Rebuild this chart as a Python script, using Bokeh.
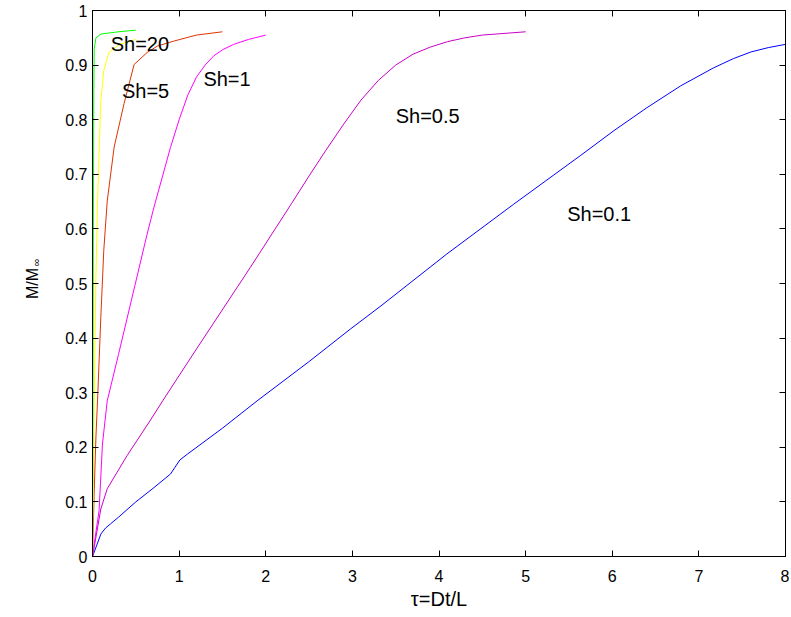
from bokeh.plotting import figure
from bokeh.models import FixedTicker, LinearAxis, Label, Range1d, Title, CustomJSTickFormatter
from bokeh.embed import file_html
from bokeh.resources import INLINE

# Data
x_sh01 = [0, 0.05, 0.096, 0.15, 0.21, 0.3, 0.5, 0.7, 0.9, 0.95, 1.01, 1.1, 1.5, 1.9, 2.5, 2.98, 3.33,
          4.09, 4.86, 5.63, 6.02, 6.4, 6.79, 7.17, 7.4, 7.6, 7.8, 8.0]
y_sh01 = [0, 0.021, 0.041, 0.052, 0.060, 0.072, 0.100, 0.125, 0.151, 0.163, 0.177, 0.188, 0.235, 0.285,
          0.357, 0.417, 0.459, 0.554, 0.645, 0.734, 0.780, 0.822, 0.862, 0.895, 0.912, 0.924, 0.932, 0.938]

x_sh05 = [0, 0.05, 0.096, 0.17, 0.4, 0.67, 0.81, 1.2, 1.82, 2.3, 2.5, 2.69, 2.9, 3.1, 3.3, 3.5, 3.7,
          3.9, 4.1, 4.3, 4.5, 4.75, 5.0]
y_sh05 = [0, 0.045, 0.087, 0.124, 0.185, 0.250, 0.285, 0.38, 0.529, 0.647, 0.697, 0.743, 0.792, 0.836,
          0.872, 0.900, 0.920, 0.933, 0.943, 0.950, 0.955, 0.958, 0.961]

x_sh1 = [0, 0.04, 0.076, 0.115, 0.17, 0.3, 0.45, 0.63, 0.71, 0.90, 1.0, 1.1, 1.2, 1.3, 1.4, 1.5, 1.63,
         1.8, 2.0]
y_sh1 = [0, 0.045, 0.084, 0.206, 0.285, 0.37, 0.47, 0.590, 0.640, 0.749, 0.800, 0.845, 0.878, 0.900,
         0.917, 0.928, 0.938, 0.947, 0.955]

x_sh5 = [0, 0.02, 0.04, 0.058, 0.096, 0.13, 0.17, 0.25, 0.365, 0.48, 0.63, 0.75, 0.94, 1.2, 1.5]
y_sh5 = [0, 0.12, 0.22, 0.285, 0.438, 0.56, 0.651, 0.75, 0.830, 0.901, 0.923, 0.935, 0.944, 0.955, 0.961]

x_sh10 = [0, 0.01, 0.02, 0.038, 0.06, 0.096, 0.13, 0.19, 0.31, 0.5]
y_sh10 = [0, 0.15, 0.285, 0.50, 0.66, 0.834, 0.890, 0.923, 0.938, 0.947]

x_sh20 = [0, 0.005, 0.01, 0.015, 0.02, 0.04, 0.1, 0.3, 0.5]
y_sh20 = [0, 0.30, 0.60, 0.85, 0.93, 0.950, 0.957, 0.961, 0.964]

series_colors = ["#0000ff", "#c800c8", "#ff00ff", "#dd3300", "#ffff00", "#00ff00"]

label_texts = ["Sh=20", "Sh=5", "Sh=1", "Sh=0.5", "Sh=0.1"]
label_x = [0.21, 0.34, 1.28, 3.50, 5.48]
label_y = [0.939, 0.853, 0.875, 0.807, 0.628]

x_ticks = [0, 1, 2, 3, 4, 5, 6, 7, 8]
y_ticks = [0, 0.1, 0.2, 0.3, 0.4, 0.5, 0.6, 0.7, 0.8, 0.9, 1]
y_tick_labels = ["0", "0.1", "0.2", "0.3", "0.4", "0.5", "0.6", "0.7", "0.8", "0.9", "1"]

FONT = "Liberation Sans"

p = figure(width=789, height=616, output_backend="svg", toolbar_location=None,
           x_range=Range1d(0, 8), y_range=Range1d(0, 1),
           frame_width=693, frame_height=546,
           min_border_left=92, min_border_right=4, min_border_top=10, min_border_bottom=60)
p.background_fill_color = "white"
p.border_fill_color = "white"
p.outline_line_color = "black"
p.outline_line_width = 1
p.grid.visible = False

for xs, ys, c in zip([x_sh01, x_sh05, x_sh1, x_sh5, x_sh10, x_sh20],
                     [y_sh01, y_sh05, y_sh1, y_sh5, y_sh10, y_sh20], series_colors):
    p.line(xs, ys, line_color=c, line_width=1)

def style_axis(ax):
    ax.axis_line_color = "black"
    ax.major_tick_in = 6
    ax.major_tick_out = 0
    ax.minor_tick_in = 0
    ax.minor_tick_out = 0
    ax.major_tick_line_color = "black"
    ax.major_label_text_font = FONT
    ax.major_label_text_font_size = "16px"
    ax.major_label_text_color = "black"

p.xaxis.ticker = FixedTicker(ticks=x_ticks)
p.yaxis.ticker = FixedTicker(ticks=y_ticks)
p.yaxis.major_label_overrides = {t: s for t, s in zip(y_ticks, y_tick_labels)}
style_axis(p.xaxis[0])
style_axis(p.yaxis[0])
p.xaxis.major_label_standoff = 13
p.yaxis.major_label_standoff = 5
p.xaxis.axis_label = "\u03c4=Dt/L"
p.xaxis.axis_label_text_font = FONT
p.xaxis.axis_label_text_font_size = "20px"
p.xaxis.axis_label_text_font_style = "normal"
p.xaxis.axis_label_text_color = "black"
p.xaxis.axis_label_standoff = 3

blank = CustomJSTickFormatter(code="return ''")
top = LinearAxis(ticker=FixedTicker(ticks=x_ticks), formatter=blank)
style_axis(top)
top.major_label_standoff = 0
p.add_layout(top, "above")
right = LinearAxis(ticker=FixedTicker(ticks=y_ticks), formatter=blank)
style_axis(right)
right.major_label_standoff = 0
p.add_layout(right, "right")

for t, lx, ly in zip(label_texts, label_x, label_y):
    p.add_layout(Label(x=lx, y=ly, text=t, text_font=FONT, text_font_size="20px",
                       text_baseline="middle", text_align="left", text_color="black"))

# y axis label: "M/M" with a subscript infinity, as two side titles
p.add_layout(Title(text="\u221e", align="right", offset=248, text_font=FONT,
                   padding=dict(left=0, right=0, top=0, bottom=21),
                   text_font_size="11px", text_font_style="normal", text_color="black", standoff=0), "left")
p.add_layout(Title(text="M/M", align="center", text_font=FONT, text_font_size="16px",
                   text_font_style="normal", text_color="black", standoff=16), "left")

open("out.html", "w").write(file_html(p, INLINE))
